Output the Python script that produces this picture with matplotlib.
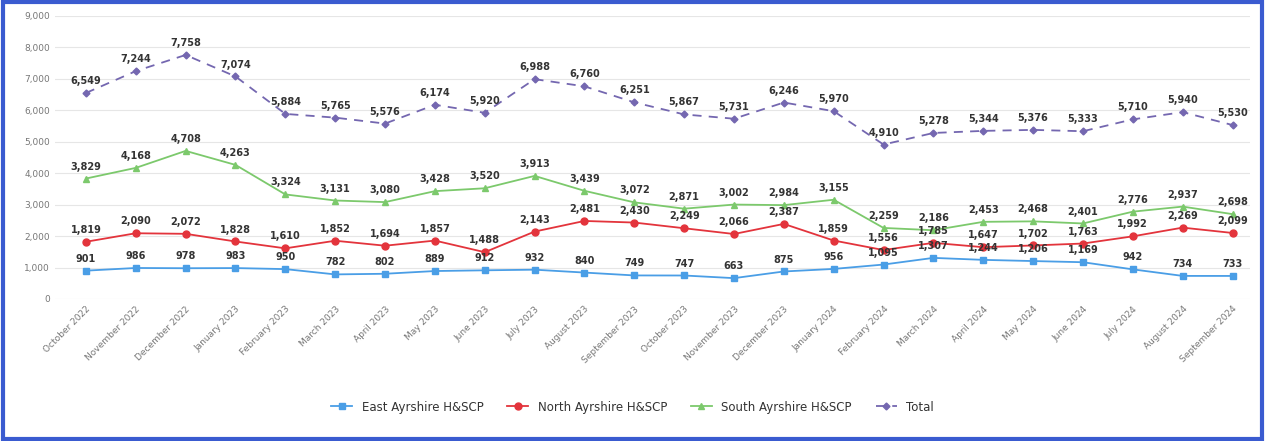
import matplotlib
matplotlib.use("Agg")
import matplotlib.pyplot as plt
from matplotlib.patches import Rectangle
from matplotlib.ticker import FuncFormatter

months = ["October 2022", "November 2022", "December 2022", "January 2023",
          "February 2023", "March 2023", "April 2023", "May 2023", "June 2023",
          "July 2023", "August 2023", "September 2023", "October 2023",
          "November 2023", "December 2023", "January 2024", "February 2024",
          "March 2024", "April 2024", "May 2024", "June 2024", "July 2024",
          "August 2024", "September 2024"]

east = [901, 986, 978, 983, 950, 782, 802, 889, 912, 932, 840, 749,
        747, 663, 875, 956, 1095, 1307, 1244, 1206, 1169, 942, 734, 733]
north = [1819, 2090, 2072, 1828, 1610, 1852, 1694, 1857, 1488, 2143, 2481, 2430,
         2249, 2066, 2387, 1859, 1556, 1785, 1647, 1702, 1763, 1992, 2269, 2099]
south = [3829, 4168, 4708, 4263, 3324, 3131, 3080, 3428, 3520, 3913, 3439, 3072,
         2871, 3002, 2984, 3155, 2259, 2186, 2453, 2468, 2401, 2776, 2937, 2698]
total = [6549, 7244, 7758, 7074, 5884, 5765, 5576, 6174, 5920, 6988, 6760, 6251,
         5867, 5731, 6246, 5970, 4910, 5278, 5344, 5376, 5333, 5710, 5940, 5530]

# name, values, colour, marker, marker size, line style
series = [
    ("East Ayrshire H&SCP", east, "#4a9ee6", "s", 5, "-"),
    ("North Ayrshire H&SCP", north, "#e3343c", "o", 5, "-"),
    ("South Ayrshire H&SCP", south, "#7cc96c", "^", 4.5, "-"),
    ("Total", total, "#7467b0", "D", 3.5, (0, (5, 4))),
]

fig = plt.figure(figsize=(12.65, 4.41), dpi=100)
ax = fig.add_axes([0.0435, 0.322, 0.945, 0.642])

x = list(range(len(months)))
for name, vals, col, mk, ms, ls in series:
    ax.plot(x, vals, color=col, marker=mk, markersize=ms, linewidth=1.3,
            linestyle=ls, label=name)
    for xi, v in zip(x, vals):
        ax.annotate(f"{v:,}", (xi, v), textcoords="offset points", xytext=(0, 5),
                    ha="center", va="bottom", fontsize=7, fontweight="bold",
                    color="#333333")

ax.set_ylim(0, 9000)
ax.set_xlim(-0.62, 23.36)
ax.set_yticks(range(0, 9001, 1000))
ax.yaxis.set_major_formatter(FuncFormatter(lambda v, p: f"{int(v):,}"))
ax.set_xticks(x)
ax.set_xticklabels(months, rotation=45, ha="right", rotation_mode="anchor",
                   fontsize=6.5, color="#777777")
ax.tick_params(axis="y", labelsize=6.5, colors="#777777", length=0)
ax.tick_params(axis="x", length=0, pad=4)
ax.grid(axis="y", color="#e6e6e6", linewidth=0.8)
ax.set_axisbelow(True)
for s in ax.spines.values():
    s.set_visible(False)

fig.legend(loc="center", bbox_to_anchor=(0.5, 0.077), ncol=4, frameon=False,
           fontsize=8.5, handlelength=1.8, columnspacing=2.0, labelcolor="#333333")

fig.patches.append(Rectangle((0.002, 0.004), 0.996, 0.992, transform=fig.transFigure,
                             fill=False, edgecolor="#3a5bd0", linewidth=3))

fig.savefig("out.png", dpi=100)
